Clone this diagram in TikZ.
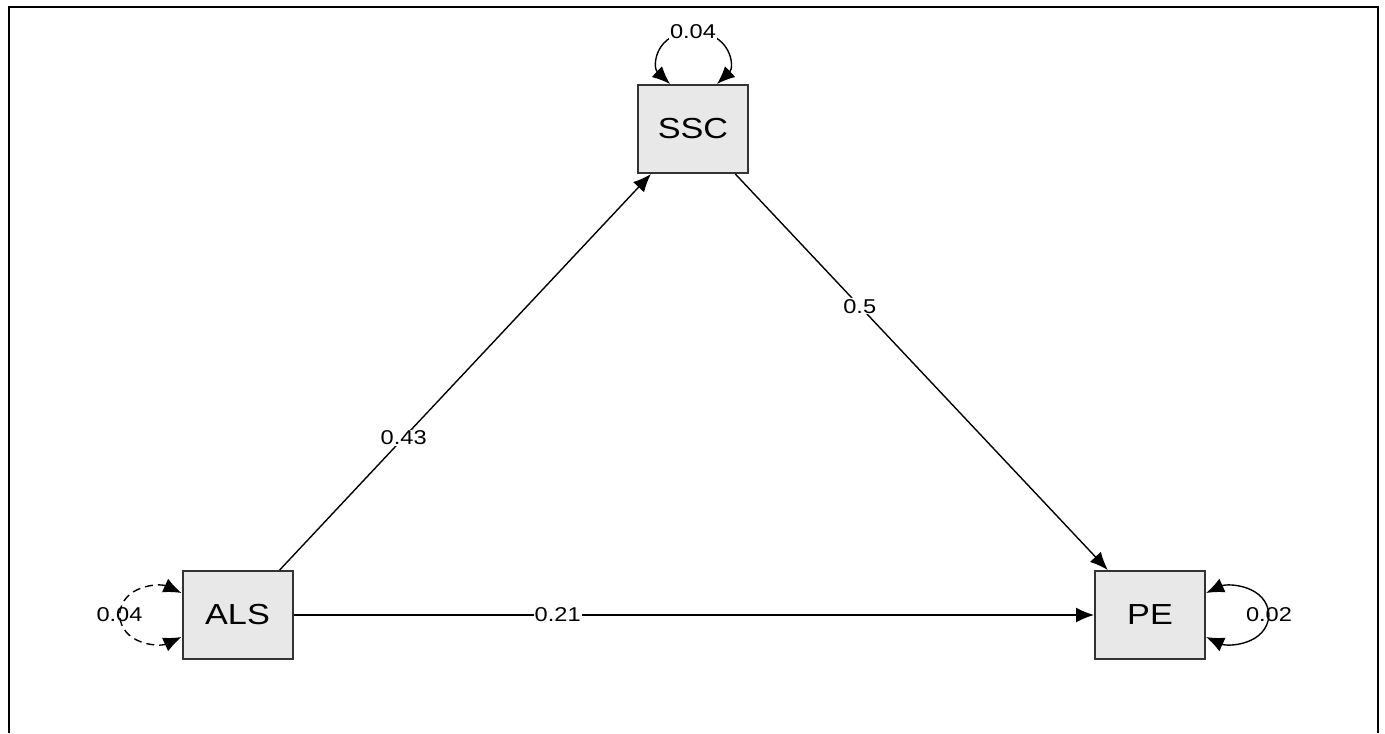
\documentclass[tikz,border=0pt]{standalone}
\usepackage{fontspec}
\setmainfont{Liberation Sans}
\usetikzlibrary{arrows.meta,calc}
\definecolor{boxfill}{HTML}{E8E8E8}
\newcommand{\stretched}[1]{\scalebox{1.18}[1]{#1}}
\tikzset{
  varbox/.style={draw=black!80, fill=boxfill, line width=1pt, minimum width=55pt,
                 minimum height=44pt, inner sep=0pt, font=\fontsize{14.5}{16}\selectfont},
  coef/.style={font=\fontsize{10}{12}\selectfont, inner sep=0.5pt},
  coefbg/.style={coef, fill=white},
  regarrow/.style={-{Latex[length=9pt,width=7.5pt]}, line width=0.7pt},
  vararrow/.style={{Latex[length=9pt,width=7.5pt]}-{Latex[length=9pt,width=7.5pt]}, line width=0.7pt},
  covdash/.style={dash pattern=on 4pt off 2.5pt},
}

\begin{document}
\begin{tikzpicture}[x=0.5pt, y=-0.5pt]
    \useasboundingbox (0,0) rectangle (1385,733);
    \draw[line width=1pt] (9,733) -- (9,7) -- (1378,7) -- (1378,733);
    \node[varbox] (SSC) at (693,129) {\stretched{SSC}};
    \node[varbox] (ALS) at (237.5,615) {\stretched{ALS}};
    \node[varbox] (PE) at (1150,615) {\stretched{PE}};
    \draw[regarrow] (ALS) -- (SSC) node[coefbg, pos=0.334] {\stretched{0.43}};
    \draw[regarrow] (SSC) -- (PE) node[coefbg, pos=0.334] {\stretched{0.5}};
    \draw[regarrow] (ALS) -- (PE) node[coefbg, pos=0.33] {\stretched{0.21}};
    % variances
    \draw[vararrow] ($(SSC.north)+(-23,0)$) .. controls +(-18,-17) and +(-38,0) .. ($(SSC.north)+(0,-52)$)
      node[coefbg] {\stretched{0.04}} .. controls +(38,0) and +(18,-17) .. ($(SSC.north)+(24,0)$);
    \draw[vararrow, covdash] ($(ALS.west)+(0,-22)$) .. controls +(-22,-10) and +(2,-30) .. ($(ALS.west)+(-62,0)$)
      node[coef] {\stretched{0.04}} .. controls +(2,30) and +(-22,10) .. ($(ALS.west)+(0,22)$);
    \draw[vararrow] ($(PE.east)+(0,-22)$) .. controls +(22,-10) and +(-2,-30) .. ($(PE.east)+(63,0)$)
      node[coef] {\stretched{0.02}} .. controls +(-2,30) and +(22,10) .. ($(PE.east)+(0,22)$);
  \end{tikzpicture}
\end{document}
